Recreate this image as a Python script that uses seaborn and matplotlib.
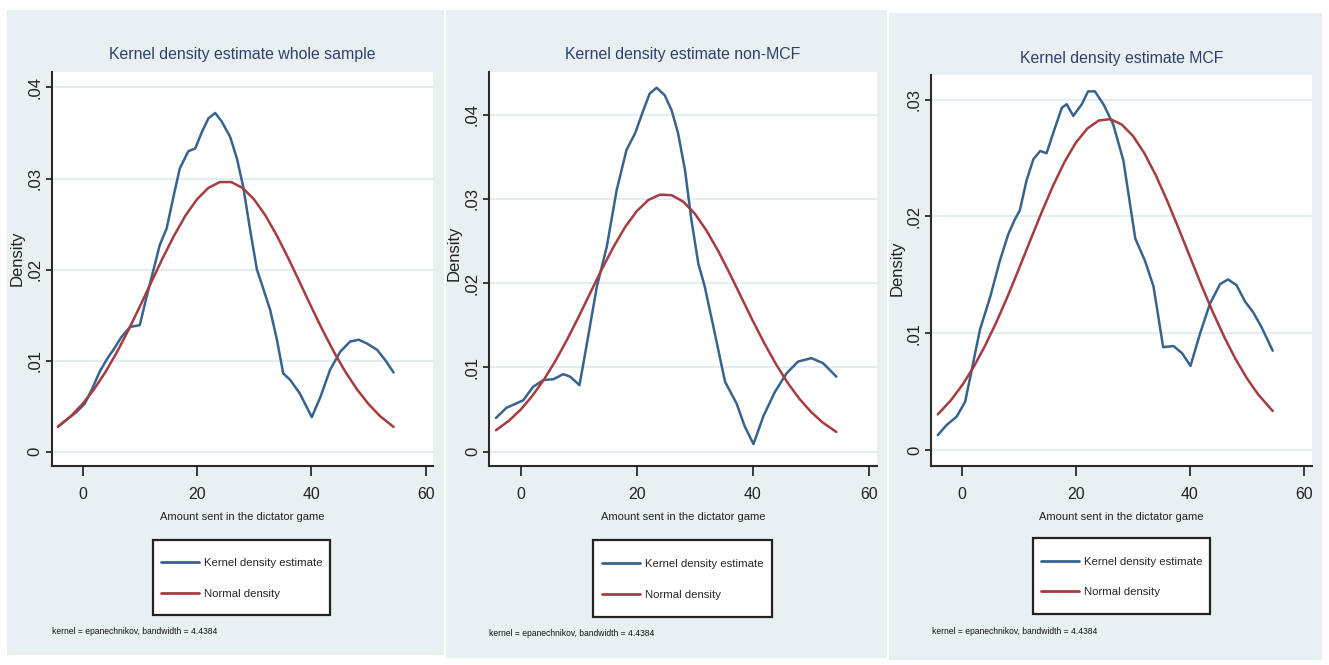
import matplotlib
matplotlib.use("Agg")
import matplotlib.pyplot as plt
from matplotlib import font_manager
from matplotlib.patches import Rectangle
import seaborn as sns
import pandas as pd

# ---------------- data ----------------
titles = ["Kernel density estimate whole sample",
          "Kernel density estimate non-MCF",
          "Kernel density estimate MCF"]
legend_labels = ["Kernel density estimate", "Normal density"]
xlabel_text = "Amount sent in the dictator game"
ylabel_text = "Density"
note_text = "kernel = epanechnikov, bandwidth = 4.4384"
x_ticks = [0, 20, 40, 60]
y_ticks_1 = [0, 0.01, 0.02, 0.03, 0.04]
y_ticks_2 = [0, 0.01, 0.02, 0.03, 0.04]
y_ticks_3 = [0, 0.01, 0.02, 0.03]

# whole sample
kde1_x = [-4.3, -1.0, 0.4, 1.6, 3.0, 4.5, 5.4, 6.8, 8.3, 10.0, 11.2, 12.7, 13.5, 14.7,
          15.9, 17.0, 18.5, 19.7, 20.8, 22.0, 23.2, 24.3, 25.8, 27.0, 28.1, 29.3, 30.5,
          31.3, 32.8, 34.0, 35.1, 36.3, 38.0, 40.1, 41.6, 43.3, 45.1, 46.8, 48.3, 49.7,
          51.5, 52.9, 54.4]
kde1_y = [0.00275, 0.0044, 0.0053, 0.0068, 0.0088, 0.0104, 0.0112, 0.0126, 0.0137, 0.0139,
          0.0170, 0.0207, 0.0227, 0.0245, 0.0280, 0.0311, 0.0330, 0.0333, 0.0350, 0.0366,
          0.0372, 0.0363, 0.0346, 0.0322, 0.0291, 0.0244, 0.0200, 0.0185, 0.0156, 0.0123,
          0.0086, 0.0079, 0.0064, 0.0038, 0.0060, 0.0090, 0.0110, 0.0121, 0.0123, 0.0119,
          0.0112, 0.0101, 0.0087]
norm1_x = [-4.3, -2, 0, 2, 4, 6, 8, 10, 12, 14, 16, 18, 20, 22, 24, 26, 28, 30, 32, 34,
           36, 38, 40, 42, 44, 46, 48, 50, 52, 54.4]
norm1_y = [0.00275, 0.00393, 0.00525, 0.00685, 0.00875, 0.01092, 0.01333, 0.01592, 0.01859,
           0.02124, 0.02372, 0.02593, 0.02771, 0.02897, 0.02961, 0.02961, 0.02897, 0.02771,
           0.02593, 0.02372, 0.02124, 0.01859, 0.01592, 0.01333, 0.01092, 0.00875, 0.00685,
           0.00525, 0.00393, 0.00272]

# non-MCF
kde2_x = [-4.3, -2.5, 0.4, 2.1, 3.9, 5.6, 7.3, 8.5, 10.1, 11.3, 13.1, 14.8, 16.5, 18.2,
          19.7, 21.1, 22.2, 23.4, 24.8, 26.0, 27.1, 28.3, 29.4, 30.6, 31.7, 33.2, 35.2,
          37.2, 38.6, 40.1, 41.8, 43.8, 45.8, 47.8, 50.1, 52.1, 54.4]
kde2_y = [0.0040, 0.0052, 0.0061, 0.0077, 0.0085, 0.0086, 0.0092, 0.0089, 0.0079, 0.0125,
          0.0196, 0.0243, 0.0310, 0.0358, 0.0378, 0.0405, 0.0425, 0.0432, 0.0423, 0.0405,
          0.0378, 0.0334, 0.0275, 0.0223, 0.0196, 0.0148, 0.0083, 0.0057, 0.0030, 0.0009,
          0.0042, 0.0071, 0.0093, 0.0107, 0.0111, 0.0105, 0.0089]
norm2_x = [-4.3, -2, 0, 2, 4, 6, 8, 10, 12, 14, 16, 18, 20, 22, 24, 26, 28, 30, 32, 34,
           36, 38, 40, 42, 44, 46, 48, 50, 52, 54.4]
norm2_y = [0.00254, 0.00371, 0.00502, 0.00665, 0.00858, 0.01083, 0.01335, 0.01607, 0.01890,
           0.02171, 0.02435, 0.02669, 0.02857, 0.02988, 0.03051, 0.03044, 0.02967, 0.02824,
           0.02625, 0.02384, 0.02115, 0.01833, 0.01551, 0.01283, 0.01036, 0.00817, 0.00629,
           0.00474, 0.00348, 0.00234]

# MCF
kde3_x = [-4.3, -2.75, -1.0, 0.5, 1.65, 3.1, 4.9, 6.6, 8.1, 9.3, 10.1, 11.3, 12.5, 13.7,
          14.8, 16.3, 17.5, 18.35, 19.5, 21.0, 22.1, 23.3, 24.8, 26.5, 28.3, 30.4, 32.1,
          33.6, 35.3, 37.1, 38.6, 40.1, 41.8, 43.5, 45.3, 46.7, 48.2, 49.7, 51.1, 52.6,
          54.55]
kde3_y = [0.00128, 0.00214, 0.00285, 0.00413, 0.00684, 0.0103, 0.0131, 0.0162, 0.0185,
          0.0198, 0.0205, 0.0231, 0.0249, 0.0256, 0.0254, 0.0276, 0.0293, 0.0296, 0.0286,
          0.0296, 0.0307, 0.0307, 0.0296, 0.0279, 0.0248, 0.0181, 0.0162, 0.0140, 0.0088,
          0.0089, 0.0083, 0.0072, 0.0100, 0.0125, 0.0142, 0.0146, 0.0141, 0.0127, 0.0118,
          0.0105, 0.0085]
norm3_x = [-4.3, -2, 0, 2, 4, 6, 8, 10, 12, 14, 16, 18, 20, 22, 24, 26, 28, 30, 32, 34,
           36, 38, 40, 42, 44, 46, 48, 50, 52, 54.55]
norm3_y = [0.00305, 0.00426, 0.00556, 0.00711, 0.00892, 0.01096, 0.01319, 0.01557, 0.01801,
           0.02041, 0.02268, 0.02469, 0.02634, 0.02753, 0.02821, 0.02832, 0.02787, 0.02688,
           0.02540, 0.02352, 0.02134, 0.01898, 0.01655, 0.01413, 0.01183, 0.00971, 0.00780,
           0.00615, 0.00475, 0.00334]

# ---------------- style ----------------
sns.set_theme(style="white")
available = {f.name for f in font_manager.fontManager.ttflist}
NARROW = "Liberation Sans Narrow" if "Liberation Sans Narrow" in available else "Liberation Sans"
REG = "Liberation Sans"
shrink = 1.0 if NARROW == "Liberation Sans Narrow" else 0.82
plt.rcParams["font.family"] = [REG, "DejaVu Sans"]

W, H = 1329, 665
BG = "#E9F0F2"
GRID = "#E4EDF0"
BLUE = "#36648F"
RED = "#A63C40"
TITLE_C = "#2F406C"
AX_C = "#2a2a2a"

fig = plt.figure(figsize=(W / 100, H / 100), dpi=100, facecolor="white")


def px_rect(x0, y0, x1, y1):
    return [x0 / W, 1 - y1 / H, (x1 - x0) / W, (y1 - y0) / H]


def fig_box(x0, y0, x1, y1, **kw):
    r = Rectangle((x0 / W, 1 - y1 / H), (x1 - x0) / W, (y1 - y0) / H,
                  transform=fig.transFigure, **kw)
    fig.add_artist(r)
    return r


# panel backgrounds (pixel boxes)
for (x0, y0, x1, y1) in [(7, 10, 444, 655), (446, 10, 887, 658), (889, 13, 1322, 660)]:
    fig_box(x0, y0, x1, y1, facecolor=BG, edgecolor="none", zorder=-5)

panels = [
    dict(box=(51.7, 72, 433, 466), xlim=(-5.4, 61.3), ylim=(-0.00157, 0.0417),
         yticks=y_ticks_1, kx=kde1_x, ky=kde1_y, nx=norm1_x, ny=norm1_y,
         title=titles[0], ylab=(-0.071, 0.528), leg=(153, 540, 330, 615), note=(52, 632)),
    dict(box=(489, 71.7, 877, 466), xlim=(-5.5, 61.4), ylim=(-0.0017, 0.0451),
         yticks=y_ticks_2, kx=kde2_x, ky=kde2_y, nx=norm2_x, ny=norm2_y,
         title=titles[1], ylab=(-0.07, 0.54), leg=(593, 540, 772, 617), note=(489, 634)),
    dict(box=(931, 75, 1311.7, 466), xlim=(-5.5, 61.4), ylim=(-0.00137, 0.0321),
         yticks=y_ticks_3, kx=kde3_x, ky=kde3_y, nx=norm3_x, ny=norm3_y,
         title=titles[2], ylab=(-0.068, 0.506), leg=(1033, 538, 1210, 614), note=(932, 631)),
]


def fmt_tick(v):
    if v == 0:
        return "0"
    return ("%.2f" % v).lstrip("0")


LEG_FS = 10 * shrink
for p in panels:
    ax = fig.add_axes(px_rect(*p["box"]))
    ax.set_facecolor("white")
    kde_df = pd.DataFrame({"x": p["kx"], "y": p["ky"]})
    nor_df = pd.DataFrame({"x": p["nx"], "y": p["ny"]})
    sns.lineplot(data=kde_df, x="x", y="y", ax=ax, color=BLUE, linewidth=1.8,
                 sort=False, estimator=None, label=legend_labels[0])
    sns.lineplot(data=nor_df, x="x", y="y", ax=ax, color=RED, linewidth=1.8,
                 sort=False, estimator=None, label=legend_labels[1])
    ax.set_xlim(*p["xlim"])
    ax.set_ylim(*p["ylim"])
    ax.set_xticks(x_ticks)
    ax.set_xticklabels([str(t) for t in x_ticks], fontfamily=NARROW, fontsize=14 * shrink,
                       color="#222222")
    ax.set_yticks(p["yticks"])
    ax.set_yticklabels([fmt_tick(t) for t in p["yticks"]], rotation=90, va="center",
                       fontfamily=REG, fontsize=12, color="#222222")
    ax.yaxis.grid(True, color=GRID, linewidth=1.4)
    ax.xaxis.grid(False)
    ax.set_axisbelow(True)
    for s in ["top", "right"]:
        ax.spines[s].set_visible(False)
    for s in ["left", "bottom"]:
        ax.spines[s].set_color(AX_C)
        ax.spines[s].set_linewidth(1.5)
    ax.tick_params(axis="x", direction="out", length=7, width=1.3, color=AX_C, pad=8,
                   bottom=True)
    ax.tick_params(axis="y", direction="out", length=4.5, width=1.3, color=AX_C, pad=2,
                   left=True)
    ax.set_xlabel(xlabel_text, fontfamily=NARROW, fontsize=9.8 * shrink, color="#222222",
                  labelpad=7)
    ax.set_ylabel(ylabel_text, fontfamily=REG, fontsize=12, color="#222222")
    ax.yaxis.set_label_coords(*p["ylab"])
    ax.set_title(p["title"], fontfamily=NARROW, fontsize=14 * shrink, color=TITLE_C, pad=9)

    # legend: white framed box (Stata style) with entries centred in it
    lx0, ly0, lx1, ly1 = p["leg"]
    fig_box(lx0, ly0, lx1, ly1, facecolor="white", edgecolor="#222222", linewidth=1.6,
            zorder=-1)
    handles, labels = ax.get_legend_handles_labels()
    if ax.legend_ is not None:
        ax.legend_.remove()
    row_gap_px = 32
    leg = ax.legend(handles, labels, loc="center",
                    bbox_to_anchor=((lx0 + lx1) / 2 / W, 1 - ((ly0 + ly1) / 2 + 1) / H),
                    bbox_transform=fig.transFigure, frameon=False,
                    prop={"family": NARROW, "size": LEG_FS},
                    handlelength=3.4, handletextpad=0.4, borderpad=0.2,
                    labelspacing=(row_gap_px - LEG_FS * 1.39 * 1.0) / (LEG_FS * 1.389),
                    borderaxespad=0)
    for line in leg.get_lines():
        line.set_linewidth(2.0)
    fig.text(p["note"][0] / W, 1 - p["note"][1] / H, note_text, fontfamily=NARROW,
             fontsize=7.5 * shrink, color="#111111", ha="left", va="center")

fig.savefig("out.png", dpi=100, facecolor="white")
